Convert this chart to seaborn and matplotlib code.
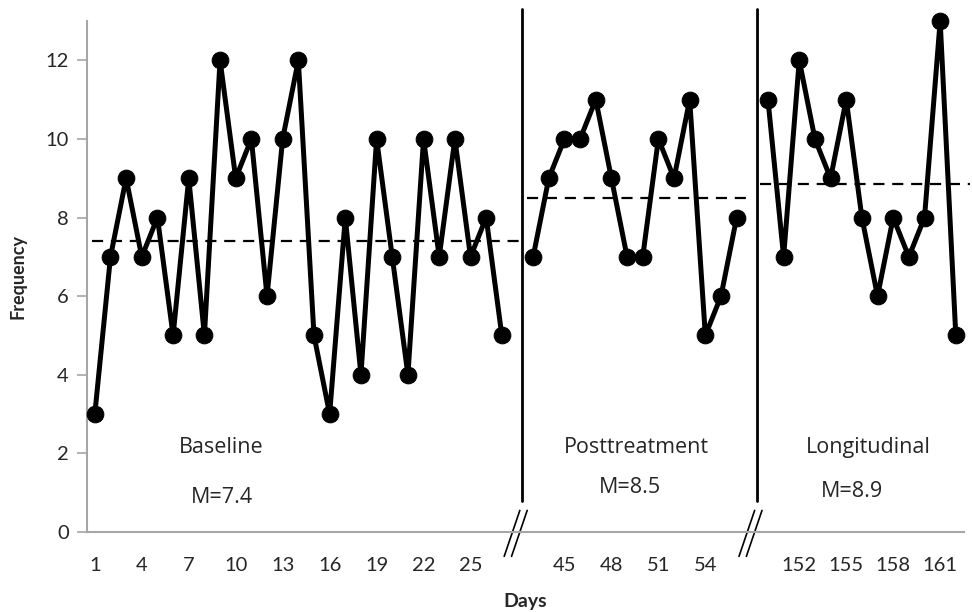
import numpy as np
import pandas as pd
import matplotlib
matplotlib.use("Agg")
import matplotlib.pyplot as plt
import seaborn as sns

# data
baseline_days = list(range(1, 28))
baseline_freq = [3, 7, 9, 7, 8, 5, 9, 5, 12, 9, 10, 6, 10, 12, 5, 3, 8, 4, 10, 7, 4, 10, 7, 10, 7, 8, 5]
post_days = list(range(43, 57))
post_freq = [7, 9, 10, 10, 11, 9, 7, 7, 10, 9, 11, 5, 6, 8]
long_days = list(range(150, 163))
long_freq = [11, 7, 12, 10, 9, 11, 8, 6, 8, 7, 8, 13, 5]

phase_names = ["Baseline", "Posttreatment", "Longitudinal"]
mean_labels = ["M=7.4", "M=8.5", "M=8.9"]
tick_days = [1, 4, 7, 10, 13, 16, 19, 22, 25, 45, 48, 51, 54, 152, 155, 158, 161]

sns.set_theme(style="white")
plt.rcParams["font.family"] = ["Lato", "DejaVu Sans"]

# category positions: one empty slot between phases (axis break)
phases = [(baseline_days, baseline_freq), (post_days, post_freq), (long_days, long_freq)]
rows = []
pos_of_day = {}
start = 0
gap_pos = []
for name, (days, freq) in zip(phase_names, phases):
    for i, (d, f) in enumerate(zip(days, freq)):
        pos_of_day[d] = start + i
        rows.append({"pos": start + i, "freq": f, "phase": name})
    start += len(days)
    gap_pos.append(start)
    start += 1
df = pd.DataFrame(rows)

fig = plt.figure(figsize=(9.72, 6.12), dpi=100)
ax = fig.add_axes([0.0895, 0.1307, 0.9019, 0.835])

for name in phase_names:
    sub = df[df["phase"] == name]
    sns.lineplot(data=sub, x="pos", y="freq", ax=ax, color="black", linewidth=3.6,
                 marker="o", markersize=12, markeredgecolor="black", markerfacecolor="black",
                 clip_on=False, zorder=3)

# phase means as dashed lines
bounds = [(-0.2, gap_pos[0] + 0.3), (gap_pos[0] + 0.6, gap_pos[1] - 0.05), (gap_pos[1] + 0.5, 55.9)]
for (days, freq), (x0, x1) in zip(phases, bounds):
    ax.plot([x0, x1], [np.mean(freq)] * 2, color="black", linestyle=(0, (5, 3.5)), linewidth=1.6, clip_on=False)

# phase change lines
for g in gap_pos[:2]:
    ax.plot([g + 0.3, g + 0.3], [0.8, 13.3], color="black", linewidth=2, clip_on=False)
    # axis break marks
    for off in [-0.25, 0.22]:
        ax.plot([g - 0.6 + off, g + 0.4 + off], [-0.62, 0.55], color="black", linewidth=1.2, clip_on=False)

# phase labels
label_x = [8.1, 34.6, 49.4]
mean_x = [8.1, 34.2, 48.4]
mean_y = [0.89, 1.14, 1.02]
for name, ml, lx, mx, my in zip(phase_names, mean_labels, label_x, mean_x, mean_y):
    ax.text(lx, 2.16, name, ha="center", va="center", fontsize=15.5, family=["Open Sans", "DejaVu Sans"])
    ax.text(mx, my, ml, ha="center", va="center", fontsize=15.5, family=["Open Sans", "DejaVu Sans"])

ax.set_xlim(-0.5, 55.5)
ax.set_ylim(0, 13)
ax.set_yticks(range(0, 13, 2))
ax.set_xticks([pos_of_day[d] for d in tick_days])
ax.set_xticklabels([str(d) for d in tick_days])
ax.tick_params(axis="y", which="both", left=True, length=7, width=1.2, color="#a6a6a6", labelsize=14.5, pad=6)
ax.tick_params(axis="x", bottom=False, labelsize=14.5, pad=12)

for side in ["top", "right"]:
    ax.spines[side].set_visible(False)
for side in ["left", "bottom"]:
    ax.spines[side].set_color("#a6a6a6")
    ax.spines[side].set_linewidth(1.5)

ax.set_xlabel("Days", fontsize=14, fontweight="bold", labelpad=14)
ax.set_ylabel("Frequency", fontsize=13, fontweight="bold", labelpad=14)

fig.savefig("out.png", dpi=100)
